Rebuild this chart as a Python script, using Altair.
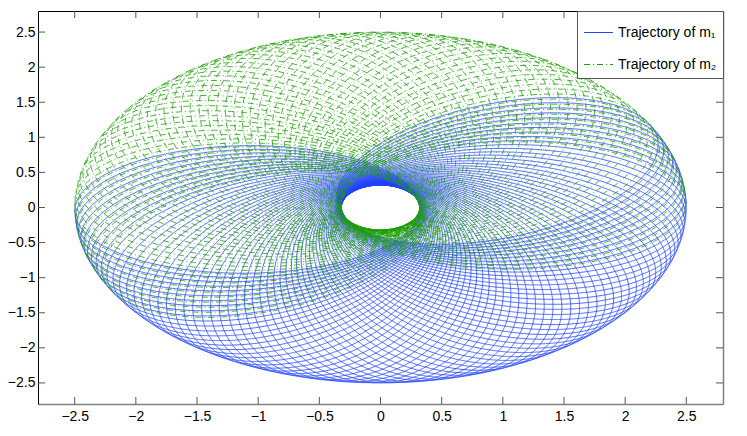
import numpy as np
import pandas as pd
import altair as alt

# ---- values ----
series_names = ["Trajectory of m\u2081", "Trajectory of m\u2082"]
series_colors = ["#2142ff", "#1f9e08"]
series_dash = [[1, 0], [6, 3, 1, 3]]
orbit_radii = [0.32, 2.5]          # closest / farthest distance of m1 from the centre
apse_angle_deg = [180.0, 390.0]    # direction of m1's far point: first and last loop
loop_count = [72]
points_per_loop = [150]
tick_values = [-2.5, -2.0, -1.5, -1.0, -0.5, 0.0, 0.5, 1.0, 1.5, 2.0, 2.5]
axis_domain = [-2.8, 2.8]

# ---- build trajectory table (m2 mirrors m1 through the centre of mass) ----
q, Q = orbit_radii
a = (q + Q) / 2.0
e = (Q - q) / (Q + q)
b = a * np.sqrt(1 - e * e)
n_loops = loop_count[0]
E = np.linspace(0, 2 * np.pi * n_loops, n_loops * points_per_loop[0] + 1)
psi = np.radians(apse_angle_deg[0]) + np.radians(apse_angle_deg[1] - apse_angle_deg[0]) * E / E[-1]
rho = psi - np.pi
xo = a * (np.cos(E) - e)
yo = b * np.sin(E)
x1 = xo * np.cos(rho) - yo * np.sin(rho)
y1 = xo * np.sin(rho) + yo * np.cos(rho)
idx = np.arange(len(E))

df = pd.concat([
    pd.DataFrame({"x": np.round(x1, 4), "y": np.round(y1, 4), "i": idx, "s": series_names[0]}),
    pd.DataFrame({"x": np.round(-x1, 4), "y": np.round(-y1, 4), "i": idx, "s": series_names[1]}),
])
ticks = pd.DataFrame({"v": tick_values})

W, H = 685, 393
FONT = "Liberation Sans"
xs = alt.Scale(domain=axis_domain, nice=False, zero=False)
ys = alt.Scale(domain=axis_domain, nice=False, zero=False)

lines = alt.Chart(df).mark_line(strokeWidth=0.8, clip=True).encode(
    x=alt.X("x:Q", scale=xs, axis=alt.Axis(
        values=tick_values, format="~g", title=None, ticks=False, grid=False,
        labelFontSize=14, labelFont=FONT, labelColor="#000", labelPadding=5,
        domainColor="#808080", domainWidth=1.5)),
    y=alt.Y("y:Q", scale=ys, axis=alt.Axis(
        values=tick_values, format="~g", title=None, ticks=False, grid=False,
        labelFontSize=14, labelFont=FONT, labelColor="#000", labelPadding=3,
        domainColor="#000", domainWidth=1)),
    color=alt.Color("s:N", scale=alt.Scale(domain=series_names, range=series_colors),
                    legend=alt.Legend(title=None, orient="top-right", offset=0,
                                      fillColor="white", strokeColor="#555",
                                      padding=6, labelFontSize=14, labelFont=FONT,
                                      labelColor="#000", symbolType="stroke",
                                      symbolSize=841, symbolStrokeWidth=1.2,
                                      rowPadding=9, labelOffset=4)),
    strokeDash=alt.StrokeDash("s:N", scale=alt.Scale(domain=series_names, range=series_dash),
                              legend=alt.Legend(title=None, orient="top-right")),
    order="i:Q",
)

tick_color = "#555"
bx = alt.Chart(ticks).mark_rule(color=tick_color, strokeWidth=1).encode(
    x=alt.X("v:Q", scale=xs, axis=alt.Axis(orient="top", labels=False, ticks=False,
                                            grid=False, title=None, domainColor="#000",
                                            domainWidth=1)),
    y=alt.value(H), y2=alt.value(H - 7))
tx = alt.Chart(ticks).mark_rule(color=tick_color, strokeWidth=1).encode(
    x=alt.X("v:Q", scale=xs, axis=None), y=alt.value(0), y2=alt.value(7))
ly = alt.Chart(ticks).mark_rule(color=tick_color, strokeWidth=1).encode(
    y=alt.Y("v:Q", scale=ys, axis=alt.Axis(orient="right", labels=False, ticks=False,
                                            grid=False, title=None, domainColor="#808080",
                                            domainWidth=1.5)),
    x=alt.value(0), x2=alt.value(7))
ry = alt.Chart(ticks).mark_rule(color=tick_color, strokeWidth=1).encode(
    y=alt.Y("v:Q", scale=ys, axis=None), x=alt.value(W), x2=alt.value(W - 7))

chart = alt.layer(lines, bx, tx, ly, ry).resolve_axis(
    x="independent", y="independent"
).properties(
    width=W, height=H,
    autosize=alt.AutoSizeParams(type="none"),
    padding={"left": 30, "top": 3, "right": 8, "bottom": 25},
).configure_view(stroke=None).configure(background="white")

chart.save("out.html", embed_options={"renderer": "svg", "actions": False})
